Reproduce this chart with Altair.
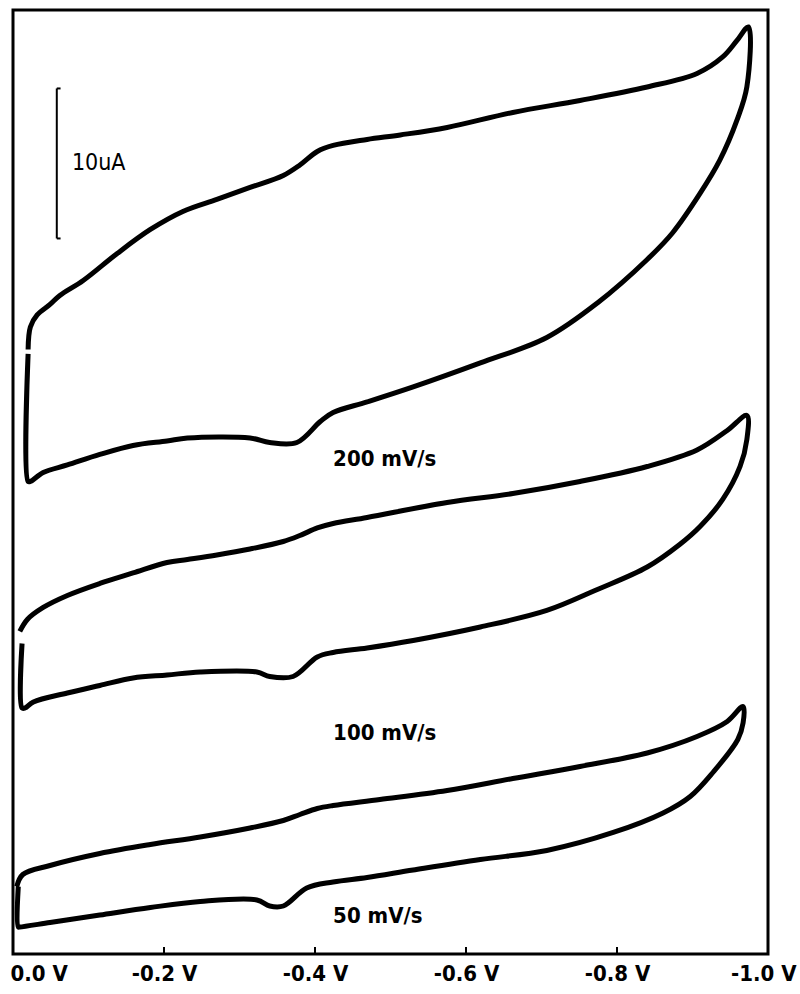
import altair as alt
import pandas as pd

# Cyclic voltammograms at three scan rates. Each loop is listed in sweep order:
# forward branch out to the switching potential, then the return branch,
# ending with the vertical step back at the start potential.
# Potential in V, current in uA (loops stacked with their own offsets).
E_200 = [-0.020, -0.023, -0.032, -0.049, -0.062, -0.093, -0.138, -0.182, -0.225,
         -0.270, -0.314, -0.358, -0.380, -0.403, -0.424, -0.469, -0.513, -0.575,
         -0.662, -0.751, -0.840, -0.906, -0.940, -0.959, -0.974,
         -0.972, -0.959, -0.936, -0.910, -0.874, -0.840, -0.774, -0.707, -0.619,
         -0.530, -0.469, -0.424, -0.407, -0.376, -0.340, -0.314, -0.231, -0.204,
         -0.159, -0.115, -0.072, -0.040, -0.023, -0.020, -0.020]
I_200 = [40.3, 41.8, 42.6, 43.3, 43.9, 44.9, 46.7, 48.3, 49.5,
         50.3, 51.1, 51.9, 52.6, 53.5, 53.9, 54.3, 54.6, 55.1,
         56.1, 56.9, 57.8, 58.7, 59.8, 60.9, 61.8,
         57.8, 55.6, 52.9, 50.7, 48.1, 46.3, 43.4, 41.1, 39.4,
         37.8, 36.8, 36.1, 35.5, 34.1, 34.1, 34.4, 34.4, 34.2,
         33.9, 33.3, 32.6, 32.1, 31.5, 31.5, 40.0]

E_100 = [-0.009, -0.019, -0.040, -0.072, -0.115, -0.159, -0.204, -0.231, -0.270,
         -0.314, -0.358, -0.380, -0.403, -0.424, -0.469, -0.575, -0.662,
         -0.751, -0.840, -0.906, -0.946, -0.972,
         -0.972, -0.963, -0.940, -0.910, -0.883, -0.840, -0.774, -0.707, -0.619,
         -0.530, -0.469, -0.424, -0.403, -0.371, -0.340, -0.323, -0.248,
         -0.204, -0.159, -0.115, -0.072, -0.027, -0.016, -0.012, -0.012]
I_100 = [21.5, 22.3, 23.1, 23.9, 24.7, 25.4, 26.1, 26.3, 26.6,
         27.0, 27.5, 27.9, 28.4, 28.7, 29.1, 30.1, 30.7,
         31.5, 32.5, 33.6, 34.9, 35.9,
         34.3, 32.5, 30.3, 28.5, 27.3, 25.8, 24.3, 22.9, 21.8,
         20.9, 20.4, 20.1, 19.8, 18.5, 18.5, 18.8, 18.8,
         18.6, 18.4, 17.9, 17.4, 16.8, 16.4, 16.4, 20.7]

E_50 = [-0.005, -0.013, -0.049, -0.115, -0.182, -0.248, -0.314, -0.358, -0.380,
        -0.403, -0.424, -0.486, -0.575, -0.662, -0.751, -0.840, -0.906, -0.946,
        -0.967,
        -0.967, -0.960, -0.927, -0.897, -0.861, -0.795, -0.707, -0.619, -0.530,
        -0.469, -0.424, -0.389, -0.358, -0.340, -0.323, -0.248, -0.182,
        -0.115, -0.049, -0.009, -0.007, -0.007]
I_50 = [4.5, 5.3, 5.9, 6.7, 7.3, 7.8, 8.4, 8.9, 9.3,
        9.7, 9.9, 10.3, 10.9, 11.7, 12.5, 13.4, 14.5, 15.5,
        16.5,
        15.4, 14.3, 12.1, 10.5, 9.4, 8.1, 6.9, 6.3, 5.6,
        5.1, 4.8, 4.4, 3.2, 3.2, 3.6, 3.5, 3.1,
        2.6, 2.1, 1.8, 1.8, 4.5]

rates = ["200 mV/s", "100 mV/s", "50 mV/s"]
loops = [(E_200, I_200), (E_100, I_100), (E_50, I_50)]

# Scan-rate captions placed beside each loop
label_E = [-0.424, -0.424, -0.424]
label_I = [33.0, 14.7, 2.5]

# Potential axis ticks
tick_values = [0.0, -0.2, -0.4, -0.6, -0.8, -1.0]
inner_ticks = [-0.2, -0.4, -0.6, -0.8]

# 10 uA scale bar
bar_E = -0.058
bar_I0 = 47.7
bar_len = 10.0
bar_text = "10uA"

rows = []
for rate, (es, cur) in zip(rates, loops):
    for k, (e, i) in enumerate(zip(es, cur)):
        rows.append({"rate": rate, "step": k, "E": e, "I": i})
cv = pd.DataFrame(rows)

labels = pd.DataFrame({"E": label_E, "I": label_I, "text": rates})
ticks = pd.DataFrame({"E": inner_ticks})
bar = pd.DataFrame({"E": [bar_E], "I0": [bar_I0], "I1": [bar_I0 + bar_len]})
serifs = pd.DataFrame({"E": [bar_E, bar_E], "E2": [bar_E - 0.005, bar_E - 0.005],
                       "I": [bar_I0, bar_I0 + bar_len]})
bar_lbl = pd.DataFrame({"E": [bar_E - 0.020], "I": [bar_I0 + bar_len / 2],
                        "text": [bar_text]})

FONT = "DejaVu Sans Condensed, DejaVu Sans, sans-serif"

x_scale = alt.Scale(domain=[0.0, -1.0], nice=False, zero=False)
y_scale = alt.Scale(domain=[0.0, 62.93], nice=False, zero=False)

x_axis = alt.Axis(
    values=tick_values,
    labelExpr="(datum.value < 0 ? '-' : '') + format(abs(datum.value), '.1f') + ' V'",
    title=None, grid=False, ticks=False, domain=False,
    labelFont=FONT, labelFontSize=22, labelFontWeight="bold", labelColor="black",
    labelPadding=9, labelBaseline="top", labelOverlap=False, labelFlush=False,
    labelAlign={"expr": "datum.value === 0 ? 'left' : (datum.value === -1 ? 'right' : 'center')"},
    labelOffset={"expr": "datum.value === 0 ? -3 : (datum.value === -1 ? 28 : 0)"},
)

curves = alt.Chart(cv).mark_line(
    color="black", strokeWidth=5, strokeJoin="round", interpolate="catmull-rom"
).encode(
    x=alt.X("E:Q", scale=x_scale, axis=x_axis),
    y=alt.Y("I:Q", scale=y_scale, axis=None),
    detail="rate:N",
    order="step:Q",
)

tick_marks = alt.Chart(ticks).mark_rule(color="black", strokeWidth=2).encode(
    x=alt.X("E:Q", scale=x_scale),
    y=alt.value(944),
    y2=alt.value(937),
)

rate_text = alt.Chart(labels).mark_text(
    align="left", baseline="middle", font=FONT, fontSize=22, fontWeight="bold",
    color="black",
).encode(
    x=alt.X("E:Q", scale=x_scale),
    y=alt.Y("I:Q", scale=y_scale),
    text="text:N",
)

bar_rule = alt.Chart(bar).mark_rule(color="black", strokeWidth=2).encode(
    x=alt.X("E:Q", scale=x_scale),
    y=alt.Y("I0:Q", scale=y_scale),
    y2="I1:Q",
)

serif_rule = alt.Chart(serifs).mark_rule(color="black", strokeWidth=2).encode(
    x=alt.X("E:Q", scale=x_scale),
    x2="E2:Q",
    y=alt.Y("I:Q", scale=y_scale),
)

bar_label = alt.Chart(bar_lbl).mark_text(
    align="left", baseline="middle", font=FONT, fontSize=23, color="black",
).encode(
    x=alt.X("E:Q", scale=x_scale),
    y=alt.Y("I:Q", scale=y_scale),
    text="text:N",
)

chart = alt.layer(curves, tick_marks, rate_text, bar_rule, serif_rule, bar_label).properties(
    width=755,
    height=944,
    autosize=alt.AutoSizeParams(type="none"),
    padding={"left": 13, "top": 10, "right": 32, "bottom": 40},
    background="white",
).configure_view(stroke="black", strokeWidth=3)

chart.save("out.html", embed_options={"renderer": "svg", "actions": False})
